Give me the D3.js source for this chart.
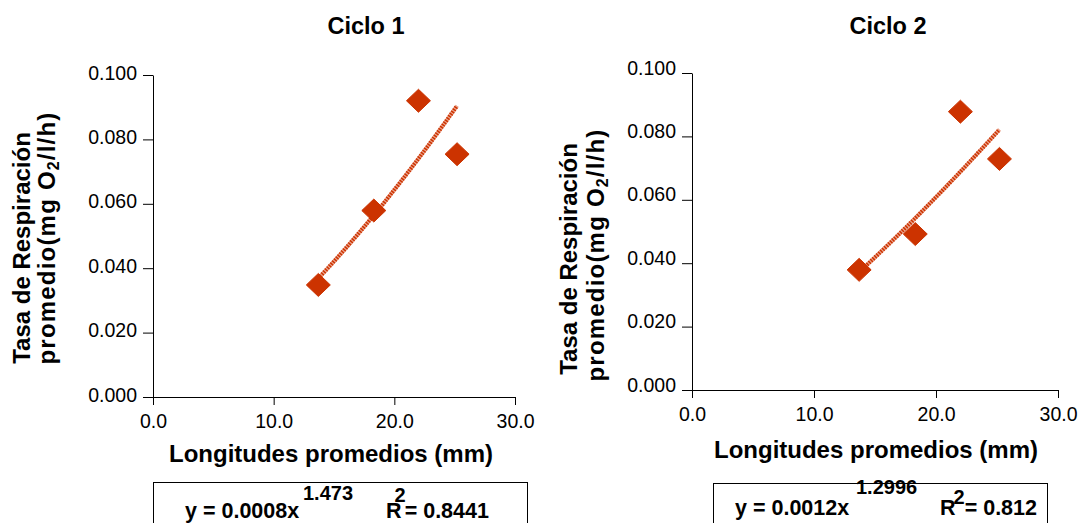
<!DOCTYPE html>
<html>
<head>
<meta charset="utf-8">
<script src="https://cdn.jsdelivr.net/npm/d3@7"></script>
<style>
  html, body { margin: 0; padding: 0; background: #fff; }
  svg { display: block; font-family: "Liberation Sans", Arial, sans-serif; }
</style>
</head>
<body>
<svg id="chart" width="1088" height="523"></svg>
<script>
// Respiration rate vs. mean length, two cycles
const cycleNames = ["Ciclo 1", "Ciclo 2"];
const lengthsC1 = [13.7, 18.3, 22.0, 25.2];
const ratesC1 = [0.0348, 0.0579, 0.0920, 0.0754];
const lengthsC2 = [13.7, 18.3, 22.0, 25.2];
const ratesC2 = [0.0379, 0.0492, 0.0878, 0.0729];

// Power trendline y = a * x^b and its R²
const powerCoef = [0.00078, 0.00124];
const powerExp = ["1.473", "1.2996"];
const rSquared = ["0.8441", "0.812"];

const xTickValues = [0, 10, 20, 30];
const yTickValues = [0, 0.02, 0.04, 0.06, 0.08, 0.1];

const xTitle = "Longitudes promedios (mm)";
const yTitleLine1 = "Tasa de Respiración";

const series = [
  { x: lengthsC1, y: ratesC1 },
  { x: lengthsC2, y: ratesC2 }
];

// Panel geometry
const panels = [
  { left: 153, right: 515, bottom: 397, top: 75, titleX: 366, titleY: 34,
    xTitleX: 331, xTitleY: 462, yTitleX1: 30, yTitleX2: 55, yTitleCy1: 248, yTitleCy2: 238,
    yLabelDy: 4, xLabelY: 31,
    box: { x: 153, y: 482, w: 374 },
    eq: { mainX: 185, mainY: 518, supX: 303, supY: 500, rX: 386, twoDx: -7, twoDy: -16, restDx: -1 } },
  { left: 692, right: 1058, bottom: 390, top: 73, titleX: 888, titleY: 34,
    xTitleX: 876, xTitleY: 458, yTitleX1: 577, yTitleX2: 604, yTitleCy1: 259, yTitleCy2: 255,
    yLabelDy: 1, xLabelY: 31,
    box: { x: 713, y: 483, w: 334 },
    eq: { mainX: 735, mainY: 515, supX: 856, supY: 494, rX: 940, twoDx: -2, twoDy: -11, restDx: 0 } }
];

const svg = d3.select("#chart");
const red = "#cc3300";

panels.forEach((p, i) => {
  const g = svg.append("g");
  const xs = d3.scaleLinear().domain([0, 30]).range([p.left, p.right]);
  const ys = d3.scaleLinear().domain([0, 0.1]).range([p.bottom, p.top]);

  // title
  g.append("text").attr("x", p.titleX).attr("y", p.titleY)
    .attr("text-anchor", "middle").attr("font-size", 23.5).attr("font-weight", "bold")
    .text(cycleNames[i]);

  // x axis
  const xAxis = g.append("g").attr("transform", `translate(0,${p.bottom})`)
    .call(d3.axisBottom(xs).tickValues(xTickValues).tickFormat(d3.format(".1f"))
      .tickSizeInner(8).tickSizeOuter(0));
  xAxis.selectAll("text").attr("font-size", 19.5).attr("font-family", "Liberation Sans, Arial, sans-serif")
    .attr("fill", "#000").attr("y", p.xLabelY).attr("dy", 0);

  // y axis
  const yAxis = g.append("g").attr("transform", `translate(${p.left},0)`)
    .call(d3.axisLeft(ys).tickValues(yTickValues).tickFormat(d3.format(".3f"))
      .tickSizeInner(10).tickSizeOuter(0).tickPadding(6));
  yAxis.selectAll("text").attr("font-size", 19.5).attr("font-family", "Liberation Sans, Arial, sans-serif")
    .attr("fill", "#000").attr("dy", p.yLabelDy);
  g.selectAll(".domain, .tick line").attr("stroke", "#000").attr("stroke-width", 1);

  // axis titles
  g.append("text").attr("x", p.xTitleX).attr("y", p.xTitleY)
    .attr("text-anchor", "middle").attr("font-size", 24).attr("font-weight", "bold")
    .text(xTitle);

  g.append("text").attr("transform", `translate(${p.yTitleX1},${p.yTitleCy1}) rotate(-90)`)
    .attr("text-anchor", "middle").attr("font-size", 24).attr("font-weight", "bold")
    .text(yTitleLine1);
  const t2 = g.append("text").attr("transform", `translate(${p.yTitleX2},${p.yTitleCy2}) rotate(-90)`)
    .attr("text-anchor", "middle").attr("font-size", 24).attr("font-weight", "bold")
    .attr("letter-spacing", 1.2);
  t2.append("tspan").text("promedio(mg O");
  t2.append("tspan").attr("font-size", 16).attr("dy", 4).text("2");
  t2.append("tspan").attr("dy", -4).text("/l/h)");

  // power trendline
  const s = series[i];
  const a = powerCoef[i], b = +powerExp[i];
  const [xmin, xmax] = d3.extent(s.x);
  const curveX = d3.range(xmin, xmax, 0.1).concat([xmax]);
  const line = d3.line().x(d => xs(d)).y(d => ys(a * Math.pow(d, b)));
  g.append("path").datum(curveX).attr("d", line)
    .attr("fill", "none").attr("stroke", "#eba58e").attr("stroke-width", 4);
  g.append("path").datum(curveX).attr("d", line)
    .attr("fill", "none").attr("stroke", red).attr("stroke-width", 4)
    .attr("stroke-dasharray", "1.5 1.2");

  // diamond markers
  const pts = s.x.map((v, k) => [v, s.y[k]]);
  g.selectAll("path.pt").data(pts).join("path").attr("class", "pt")
    .attr("d", d => {
      const cx = xs(d[0]), cy = ys(d[1]), w = 12, h = 11.5;
      return `M${cx},${cy - h}L${cx + w},${cy}L${cx},${cy + h}L${cx - w},${cy}Z`;
    })
    .attr("fill", red).attr("stroke", red).attr("stroke-width", 1).attr("stroke-linejoin", "round");

  // equation box
  g.append("rect").attr("x", p.box.x + 0.5).attr("y", p.box.y + 0.5)
    .attr("width", p.box.w).attr("height", 60)
    .attr("fill", "#fff").attr("stroke", "#000").attr("stroke-width", 1);
  const e = p.eq;
  const eqText = (x, y, size, str) => g.append("text").attr("x", x).attr("y", y)
    .attr("font-size", size).attr("font-weight", "bold").text(str);
  eqText(e.mainX, e.mainY, 21.5, `y = ${a.toFixed(4)}x`);
  eqText(e.supX, e.supY, 20, powerExp[i]);
  const rt = g.append("text").attr("x", e.rX).attr("y", e.mainY)
    .attr("font-size", 21.5).attr("font-weight", "bold");
  rt.append("tspan").text("R");
  rt.append("tspan").attr("font-size", 20).attr("dx", e.twoDx).attr("dy", e.twoDy).text("2");
  rt.append("tspan").attr("dx", e.restDx).attr("dy", -e.twoDy).text(`= ${rSquared[i]}`);
});
</script>
</body>
</html>
